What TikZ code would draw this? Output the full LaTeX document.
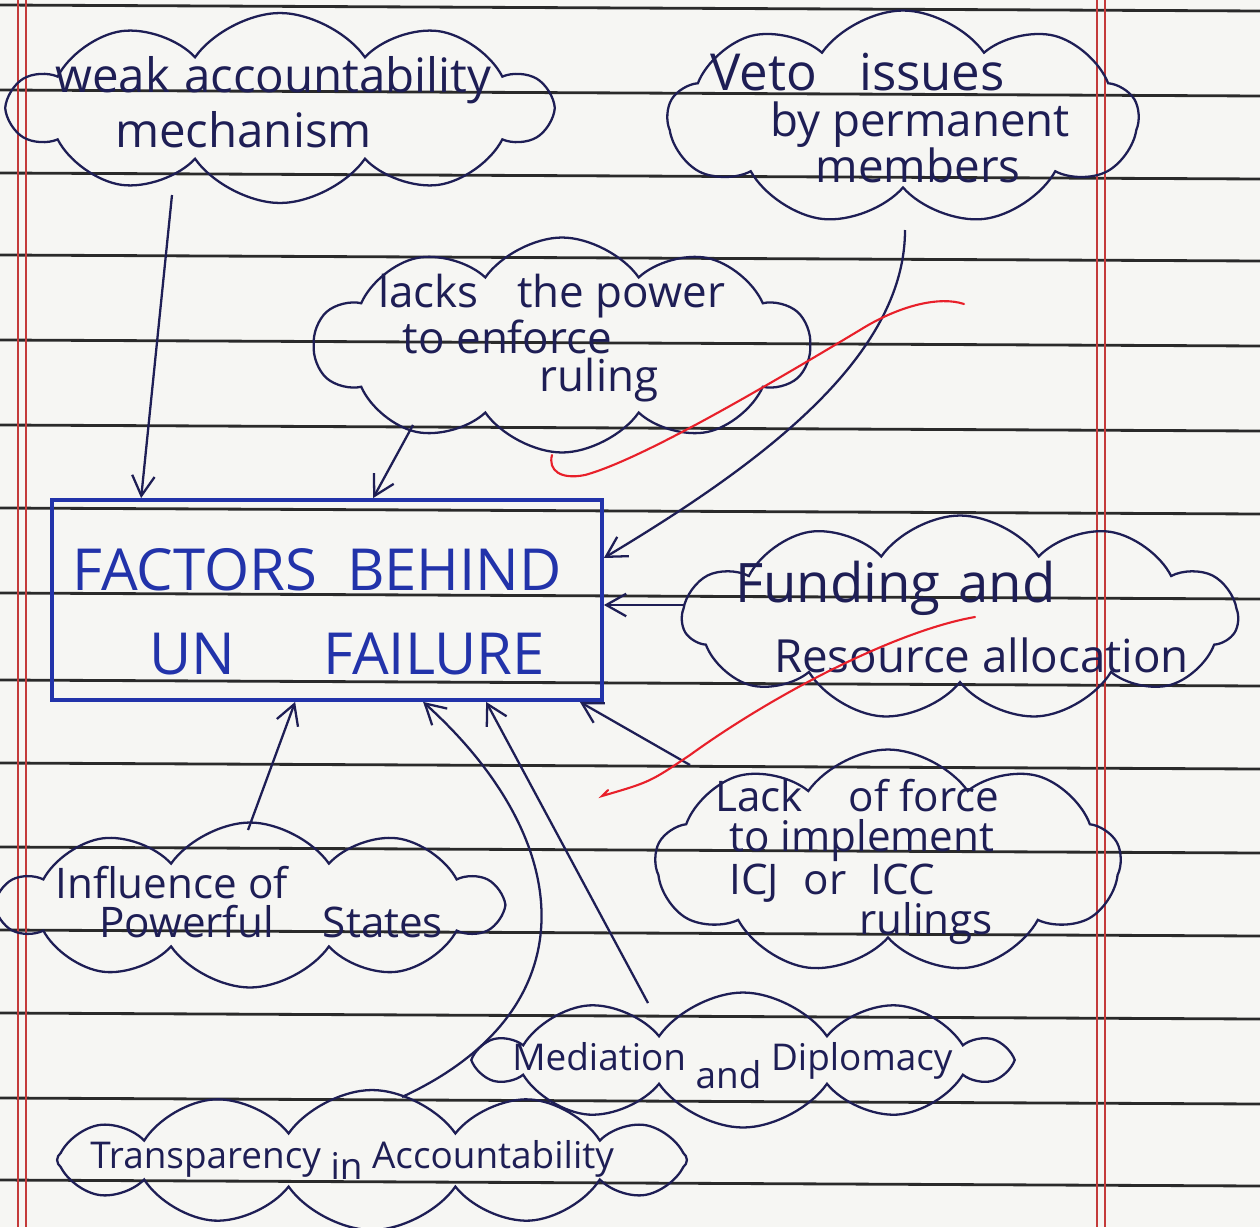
\documentclass[tikz,border=0pt]{standalone}
\usepackage{fontspec}
\setmainfont{Open Sans}
\usetikzlibrary{shapes.symbols,arrows.meta,calc}
\definecolor{ink}{HTML}{1E1E55}
\definecolor{blueink}{HTML}{2233AA}
\definecolor{paper}{HTML}{F6F6F3}
\definecolor{rulec}{HTML}{2A2A2A}
\definecolor{marginc}{HTML}{C43A3A}
\definecolor{checkc}{HTML}{E8202A}
\tikzset{
 puff/.style={cloud, cloud puffs=#1, cloud puff arc=110, cloud ignores aspect, draw=ink, line width=1.3pt, inner sep=0pt},
 hand/.style={text=ink, align=left, inner sep=0pt, anchor=west},
 conn/.style={draw=ink, line width=1.3pt, -{Straight Barb[length=4mm,width=4.5mm,line width=1.3pt]}},
 redmark/.style={draw=checkc, line width=1.2pt, line cap=round},
}
\begin{document}
\begin{tikzpicture}[x=0.02cm,y=-0.02cm]
\fill[paper] (0,0) rectangle (1260,1227);
\useasboundingbox (0,0) rectangle (1260,1227);
\clip (0,0) rectangle (1260,1227);
% ruled paper
\foreach \y in {5,90,173,255,340,425,508,593,680,763,847,930,1013,1098,1180}
  \draw[rulec, line width=1.6pt] (0,\y) -- (1260,\y+6);
\foreach \x in {18,26,1097,1105}
  \draw[marginc, line width=0.6pt] (\x,0) -- (\x,1227);
% clouds
\node[puff=10, minimum width=10.8cm, minimum height=3.8cm] (weak) at (280,108) {};
\node[puff=9, minimum width=9.4cm, minimum height=4.3cm] (veto) at (903,118) {};
\node[puff=10, minimum width=9.9cm, minimum height=4.3cm] (lacks) at (562,345) {};
\node[puff=11, minimum width=11.1cm, minimum height=4.1cm] (fund) at (960,618) {};
\node[puff=9, minimum width=9.3cm, minimum height=4.5cm] (force) at (888,862) {};
\node[puff=10, minimum width=10cm, minimum height=3.3cm] (infl) at (250,905) {};
\node[puff=10, minimum width=10.5cm, minimum height=2.7cm] (medi) at (743,1060) {};
\node[puff=12, minimum width=12.6cm, minimum height=2.8cm] (trans) at (372,1160) {};
% cloud texts
\node[hand, font=\fontsize{27}{31}\selectfont] (tweak) at (55,102) {weak\hspace{8pt}accountability\\\hspace*{34pt}mechanism};
\node[hand, font=\fontsize{26}{26}\selectfont] (tveto) at (710,118) {{\fontsize{29}{26}\selectfont Veto\hspace{24pt}issues}\\\hspace*{34pt}by permanent\\\hspace*{60pt}members};
\node[hand, font=\fontsize{25}{22}\selectfont] (tlacks) at (378,338) {lacks\hspace{22pt}the power\\\hspace*{14pt}to enforce\\\hspace*{92pt}ruling};
\node[hand, font=\fontsize{26}{40}\selectfont] (tfund) at (735,617) {{\fontsize{31}{40}\selectfont Funding\hspace{10pt}and}\\\hspace*{22pt}Resource allocation};
\node[hand, font=\fontsize{24}{23}\selectfont] (tforce) at (715,862) {Lack\hspace{26pt}of force\\\hspace*{8pt}to implement\\\hspace*{8pt}ICJ\hspace{14pt}or\hspace{14pt}ICC\\\hspace*{82pt}rulings};
\node[hand, font=\fontsize{24}{22}\selectfont] (tinfl) at (55,902) {Influence of\\\hspace*{25pt}Powerful\hspace{28pt}States};
\node[hand, font=\fontsize{21}{24}\selectfont] (tmedi) at (512,1066) {Mediation \raisebox{-0.9ex}{and} Diplomacy};
\node[hand, font=\fontsize{21}{24}\selectfont] (ttrans) at (90,1160) {Transparency \raisebox{-0.6ex}{in} Accountability};
% central box
\node[draw=blueink, line width=2.2pt, minimum width=11cm, minimum height=4cm, inner sep=0pt] (box) at (327,600) {};
\node[text=blueink, align=left, font=\fontsize{33}{48}\selectfont, inner sep=0pt, anchor=west] (tbox) at (72,612) {FACTORS\ \ BEHIND\\\hspace*{44pt}UN\hspace*{50pt}FAILURE};
% connectors
\draw[conn] ($(weak.center)+(-108,87)$) -- ($(box.north west)+(91,0)$);
\draw[conn] ($(lacks.center)+(-149,80)$) -- ($(box.north west)+(323,0)$);
\draw[conn] ($(veto.center)+(2,112)$) .. controls +(0,130) and +(150,-90) .. ($(box.east)+(0,-42)$);
\draw[conn] ($(fund.center)+(-275,-13)$) -- ($(box.east)+(0,5)$);
\draw[conn] ($(force.center)+(-198,-97)$) -- ($(box.south east)+(-24,0)$);
\draw[conn] ($(infl.center)+(-2,-75)$) -- ($(box.south west)+(245,0)$);
\draw[conn] ($(medi.center)+(-95,-57)$) -- ($(box.south west)+(436,0)$);
\draw[conn] ($(trans.center)+(30,-63)$) .. controls +(188,-87) and +(155,140) .. ($(box.south west)+(373,0)$);
% red teacher marks
\draw[redmark] (964,304) .. controls (940,296) and (900,305) .. (860,330) .. controls (760,390) and (640,460) .. (585,475) .. controls (560,480) and (548,470) .. (552,455);
\draw[redmark] (975,617) .. controls (900,630) and (780,690) .. (690,755) .. controls (650,782) .. (602,796) -- (608,790);
\end{tikzpicture}
\end{document}
